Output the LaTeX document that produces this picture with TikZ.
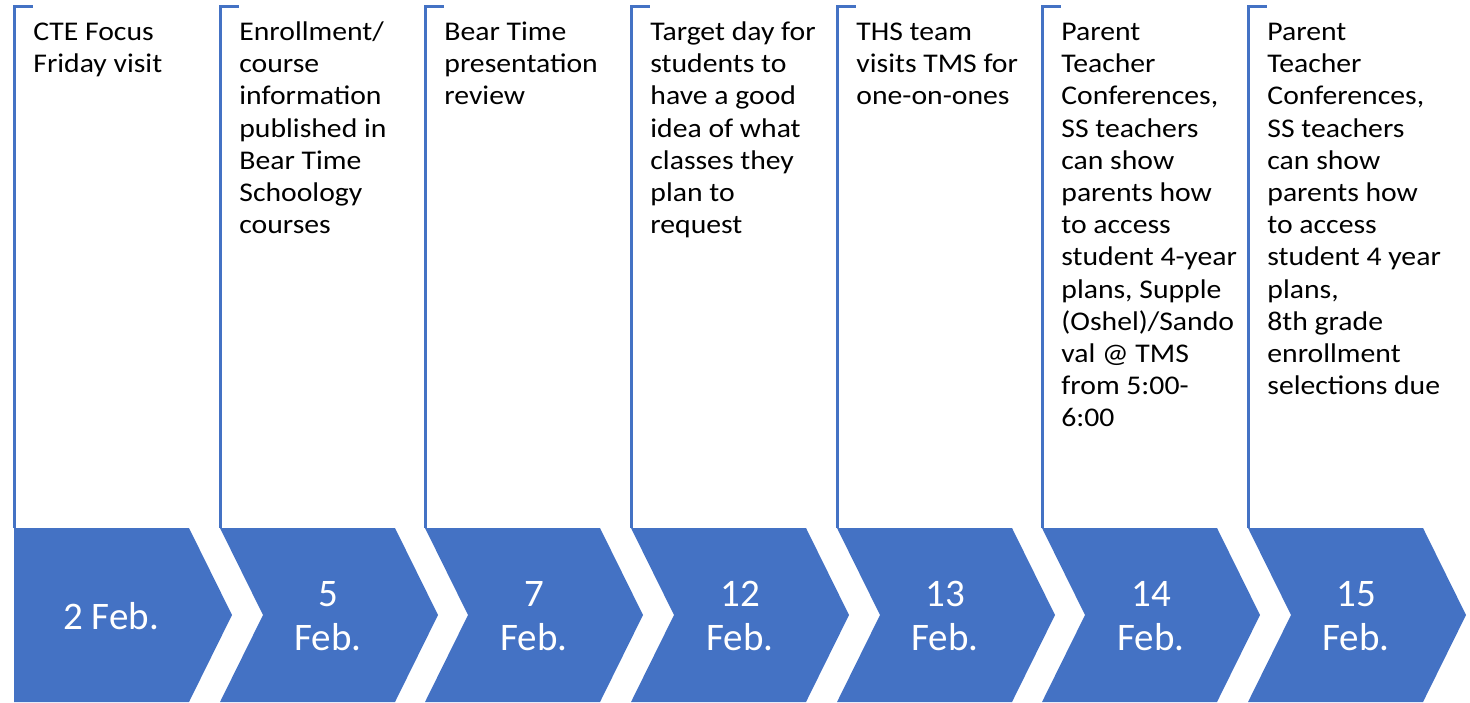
\documentclass[tikz,border=0pt]{standalone}
\usepackage{fontspec}
\setmainfont{Carlito}
\newfontfamily\eventFont[FakeStretch=1.1]{Carlito}
\definecolor{accentBlue}{HTML}{4472C4}
\tikzset{
	dateShape/.style={fill=accentBlue, draw=none},
	dateLabel/.style={text=white, font=\fontsize{19.5}{22}\selectfont, align=center, inner sep=0pt},
	eventText/.style={anchor=north west, font=\eventFont\fontsize{13.5}{16.1}\selectfont, align=left, inner sep=0pt},
	eventLine/.style={draw=accentBlue, line width=1.5pt},
}
\begin{document}
\begin{tikzpicture}[x=0.5pt, y=-0.5pt]
\useasboundingbox (0,0) rectangle (1470,702);

	% date chevrons
	\fill[dateShape] (14,528) -- (189,528) -- (232,615) -- (189,702) -- (14,702) -- cycle;
	\fill[dateShape] (220,528) -- (395,528) -- (438,615) -- (395,702) -- (220,702) -- (263,615) -- cycle;
	\fill[dateShape] (425,528) -- (600,528) -- (643,615) -- (600,702) -- (425,702) -- (468,615) -- cycle;
	\fill[dateShape] (631,528) -- (806,528) -- (849,615) -- (806,702) -- (631,702) -- (674,615) -- cycle;
	\fill[dateShape] (837,528) -- (1012,528) -- (1055,615) -- (1012,702) -- (837,702) -- (880,615) -- cycle;
	\fill[dateShape] (1042,528) -- (1217,528) -- (1260,615) -- (1217,702) -- (1042,702) -- (1085,615) -- cycle;
	\fill[dateShape] (1248,528) -- (1423,528) -- (1466,615) -- (1423,702) -- (1248,702) -- (1291,615) -- cycle;

	\node[dateLabel](date1Label) at (111,616){2 Feb.};
	\node[dateLabel](date2Label) at (328,616){5\\Feb.};
	\node[dateLabel](date3Label) at (534,616){7\\Feb.};
	\node[dateLabel](date4Label) at (740,616){12\\Feb.};
	\node[dateLabel](date5Label) at (945,616){13\\Feb.};
	\node[dateLabel](date6Label) at (1151,616){14\\Feb.};
	\node[dateLabel](date7Label) at (1356,616){15\\Feb.};

	% brackets above the chevrons
	\coordinate(event1Low) at (14,528);
	\coordinate(event1High) at (14,6);
	\coordinate(event1Tick) at (33,6);
	\draw[eventLine] (event1Low) -- (event1High) -- (event1Tick);

	\coordinate(event2Low) at (220,528);
	\coordinate(event2High) at (220,6);
	\coordinate(event2Tick) at (239,6);
	\draw[eventLine] (event2Low) -- (event2High) -- (event2Tick);

	\coordinate(event3Low) at (425,528);
	\coordinate(event3High) at (425,6);
	\coordinate(event3Tick) at (444,6);
	\draw[eventLine] (event3Low) -- (event3High) -- (event3Tick);

	\coordinate(event4Low) at (631,528);
	\coordinate(event4High) at (631,6);
	\coordinate(event4Tick) at (650,6);
	\draw[eventLine] (event4Low) -- (event4High) -- (event4Tick);

	\coordinate(event5Low) at (837,528);
	\coordinate(event5High) at (837,6);
	\coordinate(event5Tick) at (856,6);
	\draw[eventLine] (event5Low) -- (event5High) -- (event5Tick);

	\coordinate(event6Low) at (1042,528);
	\coordinate(event6High) at (1042,6);
	\coordinate(event6Tick) at (1061,6);
	\draw[eventLine] (event6Low) -- (event6High) -- (event6Tick);

	\coordinate(event7Low) at (1248,528);
	\coordinate(event7High) at (1248,6);
	\coordinate(event7Tick) at (1267,6);
	\draw[eventLine] (event7Low) -- (event7High) -- (event7Tick);

	% event texts, first baseline at y=40
	\node[eventText](event1Text) at (33,17.5){\strut CTE Focus\\Friday visit};
	\node[eventText](event2Text) at (239,17.5){\strut Enrollment/\\course\\information\\published in\\Bear Time\\Schoology\\courses};
	\node[eventText](event3Text) at (444,17.5){\strut Bear Time\\presentation\\review};
	\node[eventText](event4Text) at (650,17.5){\strut Target day for\\students to\\have a good\\idea of what\\classes they\\plan to\\request};
	\node[eventText](event5Text) at (856,17.5){\strut THS team\\visits TMS for\\one-on-ones};
	\node[eventText](event6Text) at (1061,17.5){\strut Parent\\Teacher\\Conferences,\\SS teachers\\can show\\parents how\\to access\\student 4-year\\plans, Supple\\(Oshel)/Sando\\val @ TMS\\from 5:00-\\6:00};
	\node[eventText](event7Text) at (1267,17.5){\strut Parent\\Teacher\\Conferences,\\SS teachers\\can show\\parents how\\to access\\student 4 year\\plans,\\8th grade\\enrollment\\selections due};
\end{tikzpicture}
\end{document}
